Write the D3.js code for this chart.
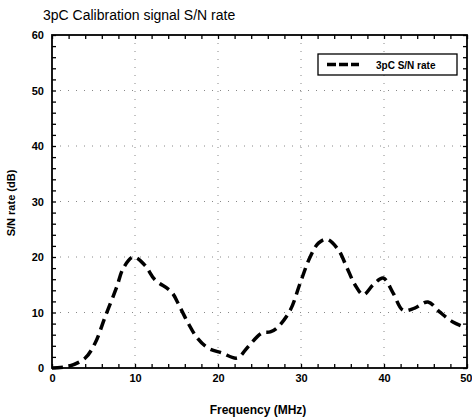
<!DOCTYPE html>
<html>
<head>
<meta charset="utf-8">
<script src="https://cdn.jsdelivr.net/npm/d3@7"></script>
<style>
  body { margin: 0; background: #fff; }
  text { font-family: "Liberation Sans", Arial, sans-serif; }
</style>
</head>
<body>
<div id="chart"></div>
<script>
//data
let freq = [0, 2, 4, 5.2, 6.4, 7.8, 8.6, 9.8, 11.2, 12.4, 14.4, 15.4, 16.4, 17.5, 18.8, 20.5, 22.3,
            23.6, 25.3, 26.3, 27.1, 28.7, 29.9, 31.1, 32.1, 33.1, 34.5, 35.5, 36.5, 37.5, 38.7,
            39.9, 41.1, 42.3, 43.7, 45.3, 46.7, 48.3, 50];
let snr = [0, 0.3, 1.8, 4.5, 9.2, 14.6, 18, 20, 18.5, 15.9, 13.7, 11, 8.1, 5.4, 3.6, 2.7, 1.8,
           3.8, 6.3, 6.5, 7.2, 10.4, 15.3, 20, 22.5, 23.2, 21.3, 18.2, 15, 13.2, 15,
           16.2, 13.5, 10.4, 10.8, 11.9, 10.1, 8.3, 7.2];
let xTicks = [0, 10, 20, 30, 40, 50];
let yTicks = [0, 10, 20, 30, 40, 50, 60];
let seriesName = "3pC S/N rate";

let width = 472, height = 420;
let margin = {top: 35, right: 5, bottom: 52, left: 52};
let w = width - margin.left - margin.right;
let h = height - margin.top - margin.bottom;

let svg = d3.select("#chart")
    .append("svg")
    .attr("width", width)
    .attr("height", height)
    .append("g")
    .attr("transform", `translate(${margin.left},${margin.top})`);

let x = d3.scaleLinear().domain([0, 50]).range([0, w]);
let y = d3.scaleLinear().domain([0, 60]).range([h, 0]);

//dotted grid
svg.append("g").selectAll("line").data(xTicks.slice(1, -1)).enter()
    .append("line")
    .attr("x1", d => x(d)).attr("x2", d => x(d))
    .attr("y1", 0).attr("y2", h)
    .attr("stroke", "#888").attr("stroke-width", 1)
    .attr("stroke-dasharray", "1,7");
svg.append("g").selectAll("line").data(yTicks.slice(1, -1)).enter()
    .append("line")
    .attr("x1", 0).attr("x2", w)
    .attr("y1", d => y(d)).attr("y2", d => y(d))
    .attr("stroke", "#888").attr("stroke-width", 1)
    .attr("stroke-dasharray", "1,7");

//axes: major + minor ticks pointing inward on all sides
let minorX = d3.range(0, 51, 2);
let minorY = d3.range(0, 61, 2);
function styleAxis(g) {
    g.select(".domain").remove();
    g.selectAll("line").attr("stroke", "#000").attr("stroke-width", 1.3);
}
svg.append("g").attr("transform", `translate(0,${h})`)
    .call(d3.axisBottom(x).tickValues(minorX).tickSize(-4).tickFormat(""))
    .call(styleAxis);
svg.append("g")
    .call(d3.axisTop(x).tickValues(minorX).tickSize(-4).tickFormat(""))
    .call(styleAxis);
svg.append("g")
    .call(d3.axisLeft(y).tickValues(minorY).tickSize(-4).tickFormat(""))
    .call(styleAxis);
svg.append("g").attr("transform", `translate(${w},0)`)
    .call(d3.axisRight(y).tickValues(minorY).tickSize(-4).tickFormat(""))
    .call(styleAxis);

//tick labels
let xAxis = svg.append("g").attr("transform", `translate(0,${h})`)
    .call(d3.axisBottom(x).tickValues(xTicks).tickSize(0).tickPadding(6));
xAxis.select(".domain").remove();
xAxis.selectAll("text")
    .style("font-size", "11px").style("font-weight", "bold")
    .attr("fill", "#000");
//keep the last label inside the window
xAxis.selectAll("text").filter(d => d === 50)
    .attr("text-anchor", "end").attr("dx", "0.45em");

let yAxis = svg.append("g")
    .call(d3.axisLeft(y).tickValues(yTicks).tickSize(0).tickPadding(8));
yAxis.select(".domain").remove();
yAxis.selectAll("text")
    .style("font-size", "11px").style("font-weight", "bold")
    .attr("fill", "#000");

//frame
svg.append("rect")
    .attr("x", 0).attr("y", 0)
    .attr("width", w).attr("height", h)
    .attr("fill", "none")
    .attr("stroke", "#000").attr("stroke-width", 1.8);

//line
let line = d3.line()
    .x((d, i) => x(freq[i]))
    .y(d => y(d))
    .curve(d3.curveCatmullRom.alpha(0.5));

svg.append("path")
    .datum(snr)
    .attr("fill", "none")
    .attr("stroke", "#000")
    .attr("stroke-width", 3.5)
    .attr("stroke-dasharray", "11,6")
    .attr("d", line);

//legend
let legend = svg.append("g").attr("transform", `translate(${318 - margin.left},${54 - margin.top})`);
legend.append("rect")
    .attr("width", 139).attr("height", 21)
    .attr("fill", "#fff")
    .attr("stroke", "#000").attr("stroke-width", 1.3);
legend.append("line")
    .attr("x1", 9).attr("x2", 41)
    .attr("y1", 10.5).attr("y2", 10.5)
    .attr("stroke", "#000").attr("stroke-width", 3.5)
    .attr("stroke-dasharray", "9,3");
legend.append("text")
    .attr("x", 58).attr("y", 14.5)
    .style("font-size", "10px").style("font-weight", "bold")
    .text(seriesName);

//title
svg.append("text")
    .attr("x", 43 - margin.left).attr("y", 20 - margin.top)
    .style("font-size", "14px")
    .text("3pC Calibration signal S/N rate");

//x label
svg.append("text")
    .attr("x", 258 - margin.left).attr("y", 414 - margin.top)
    .style("text-anchor", "middle")
    .style("font-size", "12px").style("font-weight", "bold")
    .text("Frequency (MHz)");

//y label
svg.append("text")
    .attr("transform", `translate(${15 - margin.left},${203 - margin.top}) rotate(-90)`)
    .style("text-anchor", "middle")
    .style("font-size", "11px").style("font-weight", "bold")
    .text("S/N rate (dB)");
</script>
</body>
</html>
